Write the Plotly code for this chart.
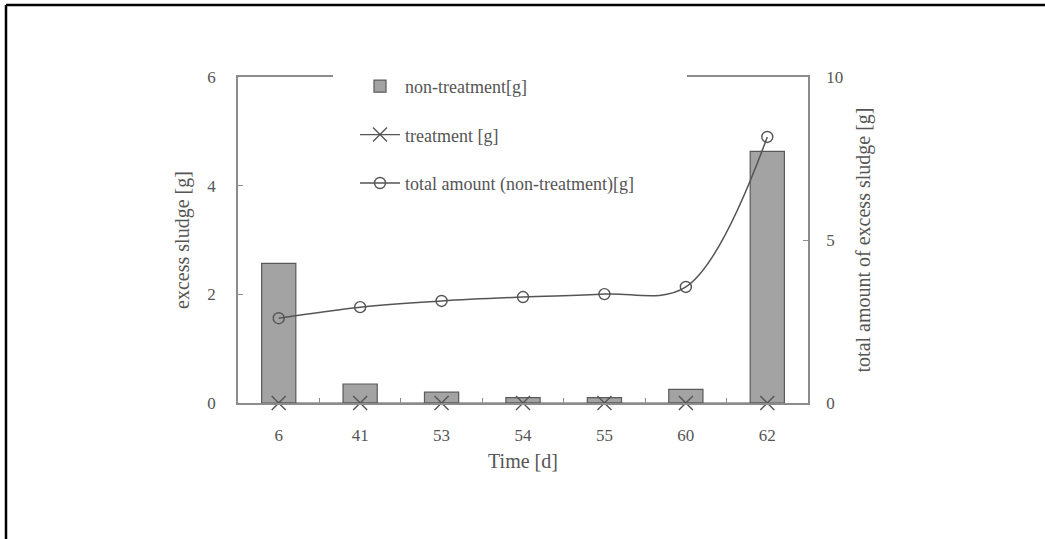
import plotly.graph_objects as go

days = ["6", "41", "53", "54", "55", "60", "62"]
non_treatment = [2.57, 0.35, 0.2, 0.1, 0.1, 0.25, 4.63]
treatment = [0, 0, 0, 0, 0, 0, 0]
total_amount = [2.6, 2.94, 3.13, 3.25, 3.34, 3.56, 8.16]

FONT = "Liberation Serif"
TXT = "#555555"
AX = "#8c8c8c"

fig = go.Figure()
fig.add_trace(go.Bar(
    x=days, y=non_treatment, name="non-treatment[g]",
    marker=dict(color="#a3a3a3", line=dict(color="#5a5a5a", width=1.2)),
    width=0.42, legendgroup="a", yaxis="y",
))
fig.add_trace(go.Scatter(
    x=days, y=treatment, name="treatment [g]", mode="lines+markers",
    line=dict(color="#555555", width=1.2),
    marker=dict(symbol="x-thin-open", size=14, line=dict(color="#444444", width=1.4)),
    legendgroup="b", cliponaxis=False, yaxis="y",
))
fig.add_trace(go.Scatter(
    x=days, y=total_amount, name="total amount (non-treatment)[g]", mode="lines+markers",
    line=dict(color="#555555", width=1.5, shape="spline", smoothing=1.0),
    marker=dict(symbol="circle-open", size=11, line=dict(color="#555555", width=1.4)),
    legendgroup="c", cliponaxis=False, yaxis="y2",
))

L, R, T, B = 238, 808, 77, 403
W, H = R - L, B - T

def px(x):
    return (x - L) / W

def py(y):
    return (B - y) / H

fig.update_layout(
    width=1045, height=539,
    margin=dict(l=L, r=1045 - R, t=T, b=539 - B, pad=0),
    paper_bgcolor="white", plot_bgcolor="white",
    font=dict(family=FONT, color=TXT, size=17),
    showlegend=True,
    legend=dict(
        x=px(355), y=py(68), xanchor="left", yanchor="top",
        bgcolor="white", font=dict(size=18, color=TXT, family=FONT),
        traceorder="grouped", tracegroupgap=22, itemwidth=40,
    ),
    xaxis=dict(
        type="category", showline=True, linecolor=AX, linewidth=1.5, mirror=True,
        ticks="inside", tickson="boundaries", ticklen=5, tickcolor=AX,
        showgrid=False, zeroline=False, ticklabelstandoff=16,
        title=dict(text="Time [d]", standoff=10, font=dict(size=20)),
        tickfont=dict(size=17),
    ),
    yaxis=dict(
        range=[0, 6], tickvals=[0, 2, 4, 6], showline=True, linecolor=AX, linewidth=1.5,
        ticks="inside", ticklen=5, tickcolor=AX, showgrid=False, zeroline=False,
        ticklabelstandoff=17,
        title=dict(text="excess sludge [g]", standoff=12, font=dict(size=20)),
        tickfont=dict(size=17),
    ),
    yaxis2=dict(
        range=[0, 10], tickvals=[0, 5, 10], overlaying="y", side="right",
        showline=True, linecolor=AX, linewidth=1.5,
        ticks="inside", ticklen=5, tickcolor=AX, showgrid=False, zeroline=False,
        ticklabelstandoff=13,
        title=dict(text="total amount of excess sludge [g]", standoff=14, font=dict(size=20)),
        tickfont=dict(size=17),
    ),
    bargap=0.5,
    shapes=[
        dict(type="rect", xref="paper", yref="paper", x0=px(333), x1=px(687),
             y0=py(80), y1=py(72), fillcolor="white", line=dict(width=0), layer="above"),
        dict(type="line", xref="paper", yref="paper", x0=px(6), x1=px(1045),
             y0=py(5), y1=py(5), line=dict(color="black", width=2.5)),
        dict(type="line", xref="paper", yref="paper", x0=px(6), x1=px(6),
             y0=py(5), y1=py(539), line=dict(color="black", width=2.5)),
    ],
)

fig.write_html("out.html", config={"displayModeBar": False},
               post_script="document.body.style.margin='0';")
